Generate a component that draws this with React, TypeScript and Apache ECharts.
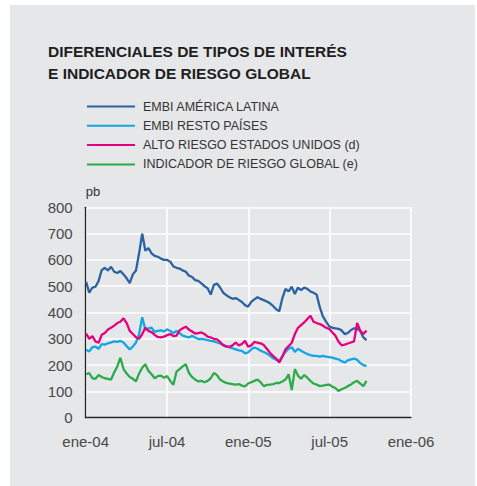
import React, { useEffect, useRef } from "react";
import * as echarts from "echarts";

// Etiquetas del eje temporal (días desde 1-ene-2004, cada semestre)
const X_TICK_LABELS = ["ene-04", "jul-04", "ene-05", "jul-05", "ene-06"];
const SERIES_NAMES = [
  "EMBI AMÉRICA LATINA",
  "EMBI RESTO PAÍSES",
  "ALTO RIESGO ESTADOS UNIDOS (d)",
  "INDICADOR DE RIESGO GLOBAL (e)",
];
// Observaciones semanales: primera el 2-ene-2004 (día 1), luego cada 7 días
const FIRST_DAY = 1;
const STEP_DAYS = 7;

const embiLatam = [
  517, 475, 495, 498, 520, 561, 570, 560, 574, 555,
  550, 558, 545, 530, 512, 545, 560, 625, 700, 635,
  645, 625, 615, 612, 605, 600, 600, 593, 575, 570,
  567, 560, 555, 540, 535, 523, 520, 511, 500, 492,
  468, 505, 510, 495, 475, 466, 458, 452, 455, 448,
  440, 428, 422, 440, 450, 458, 452, 447, 442, 435,
  425, 412, 405, 455, 490, 480, 498, 470, 495, 485,
  495, 490, 480, 475, 468, 420, 385, 365, 348, 342,
  340, 338, 332, 318, 322, 333, 340, 338, 330, 305,
  295,
];
const embiResto = [
  258, 252, 268, 270, 262, 280, 278, 283, 286, 290,
  288, 292, 286, 272, 260, 270, 286, 318, 382, 335,
  340, 342, 326, 330, 332, 328, 336, 330, 322, 330,
  322, 312, 308, 305, 312, 305, 299, 300, 298, 295,
  292, 290, 286, 282, 276, 272, 267, 264, 260, 256,
  254, 245, 248, 260, 267, 262, 255, 250, 244, 236,
  226, 220, 216, 235, 250, 262, 268, 250, 262, 255,
  248, 242, 238, 235, 235, 232, 235, 232, 230, 228,
  225, 222, 215, 210, 218, 222, 225, 220, 208, 200,
  196,
];
const altoRiesgoEEUU = [
  320, 300, 310, 290, 285, 315, 322, 335, 342, 350,
  360, 365, 378, 360, 330, 318, 306, 300, 318, 342,
  330, 325, 315, 307, 305, 308, 314, 318, 310, 312,
  332, 340, 346, 335, 328, 320, 322, 324, 318, 308,
  305, 300, 298, 288, 276, 270, 270, 275, 286, 275,
  280, 292, 270, 275, 288, 285, 283, 276, 262, 247,
  235, 225, 210, 232, 260, 272, 285, 318, 342, 352,
  362, 375, 388, 365, 360, 356, 350, 342, 338, 325,
  312, 290, 275, 278, 282, 286, 290, 360, 330, 318,
  331,
];
const riesgoGlobal = [
  165, 170, 150, 148, 162, 155, 150, 148, 145, 172,
  195, 228, 185, 168, 155, 148, 138, 168, 190, 203,
  178, 165, 150, 158, 160, 152, 158, 140, 125, 175,
  185, 195, 203, 170, 155, 145, 138, 140, 135, 140,
  150, 170, 162, 145, 138, 132, 130, 128, 126, 128,
  122, 119, 130, 135, 140, 145, 135, 120, 125, 126,
  128, 132, 132, 138, 145, 165, 105, 185, 160, 148,
  162, 152, 140, 130, 126, 120, 122, 125, 126, 118,
  113, 102, 108, 113, 120, 126, 135, 140, 130, 120,
  140,
];

const COLORS = ["#2b63a2", "#12a6e4", "#e6007e", "#2dab4b"];
const SEMESTER = 182.75;

export default function App() {
  const ref = useRef<HTMLDivElement>(null);
  useEffect(() => {
    if (!ref.current) return;
    const chart = echarts.init(ref.current, null, { renderer: "svg" });
    const toPairs = (arr: number[]) =>
      arr.map((v, i) => [FIRST_DAY + STEP_DAYS * i, v]);
    const all = [embiLatam, embiResto, altoRiesgoEEUU, riesgoGlobal];
    const font = "'Liberation Sans', Arial, sans-serif";
    chart.setOption({
      animation: false,
      backgroundColor: "#ffffff",
      textStyle: { fontFamily: font },
      graphic: [
        {
          type: "rect",
          z: -10,
          silent: true,
          shape: { x: 10, y: 5, width: 465, height: 481 },
          style: { fill: "#e6e7e9" },
        },
      ],
      title: {
        text: "DIFERENCIALES DE TIPOS DE INTERÉS\nE INDICADOR DE RIESGO GLOBAL",
        left: 48,
        top: 41,
        padding: 0,
        textStyle: {
          fontFamily: font,
          fontSize: 15.5,
          fontWeight: "bold",
          color: "#1e1e1e",
          lineHeight: 21.7,
        },
      },
      legend: {
        orient: "vertical",
        left: 87,
        top: 99.5,
        padding: 0,
        icon: "rect",
        itemWidth: 48,
        itemHeight: 2,
        itemGap: 5.3,
        data: SERIES_NAMES,
        textStyle: {
          fontFamily: font,
          fontSize: 12.5,
          color: "#333333",
          lineHeight: 14,
          padding: [0, 0, 0, 3],
        },
      },
      grid: { left: 85.7, right: 66, top: 207.3, bottom: 68.3 },
      xAxis: {
        type: "value",
        min: 0,
        max: 731,
        interval: SEMESTER,
        axisLine: { show: true, lineStyle: { color: "#222222", width: 1.3 } },
        axisTick: { show: false },
        axisLabel: {
          fontFamily: font,
          fontSize: 15,
          color: "#474747",
          margin: 16,
          showMaxLabel: true,
          formatter: (v: number) => X_TICK_LABELS[Math.round(v / SEMESTER)] ?? "",
        },
        splitLine: { show: true, lineStyle: { color: "#ffffff", width: 1.6 } },
      },
      yAxis: {
        type: "value",
        min: 0,
        max: 800,
        interval: 100,
        name: "pb",
        nameLocation: "end",
        nameGap: 9,
        nameTextStyle: {
          fontFamily: font,
          fontSize: 13,
          color: "#333333",
          align: "left",
        },
        axisLine: { show: true, lineStyle: { color: "#222222", width: 1.3 } },
        axisTick: { show: false },
        axisLabel: { fontFamily: font, fontSize: 15, color: "#474747", margin: 13 },
        splitLine: { show: true, lineStyle: { color: "#ffffff", width: 1.6 } },
      },
      series: SERIES_NAMES.map((name, k) => ({
        name,
        type: "line",
        data: toPairs(all[k]),
        showSymbol: false,
        symbol: "none",
        color: COLORS[k],
        lineStyle: { color: COLORS[k], width: 2.3 },
      })),
    });
    return () => chart.dispose();
  }, []);
  return (
    <div
      ref={ref}
      style={{ position: "absolute", left: 0, top: 0, width: 477, height: 486 }}
    />
  );
}
